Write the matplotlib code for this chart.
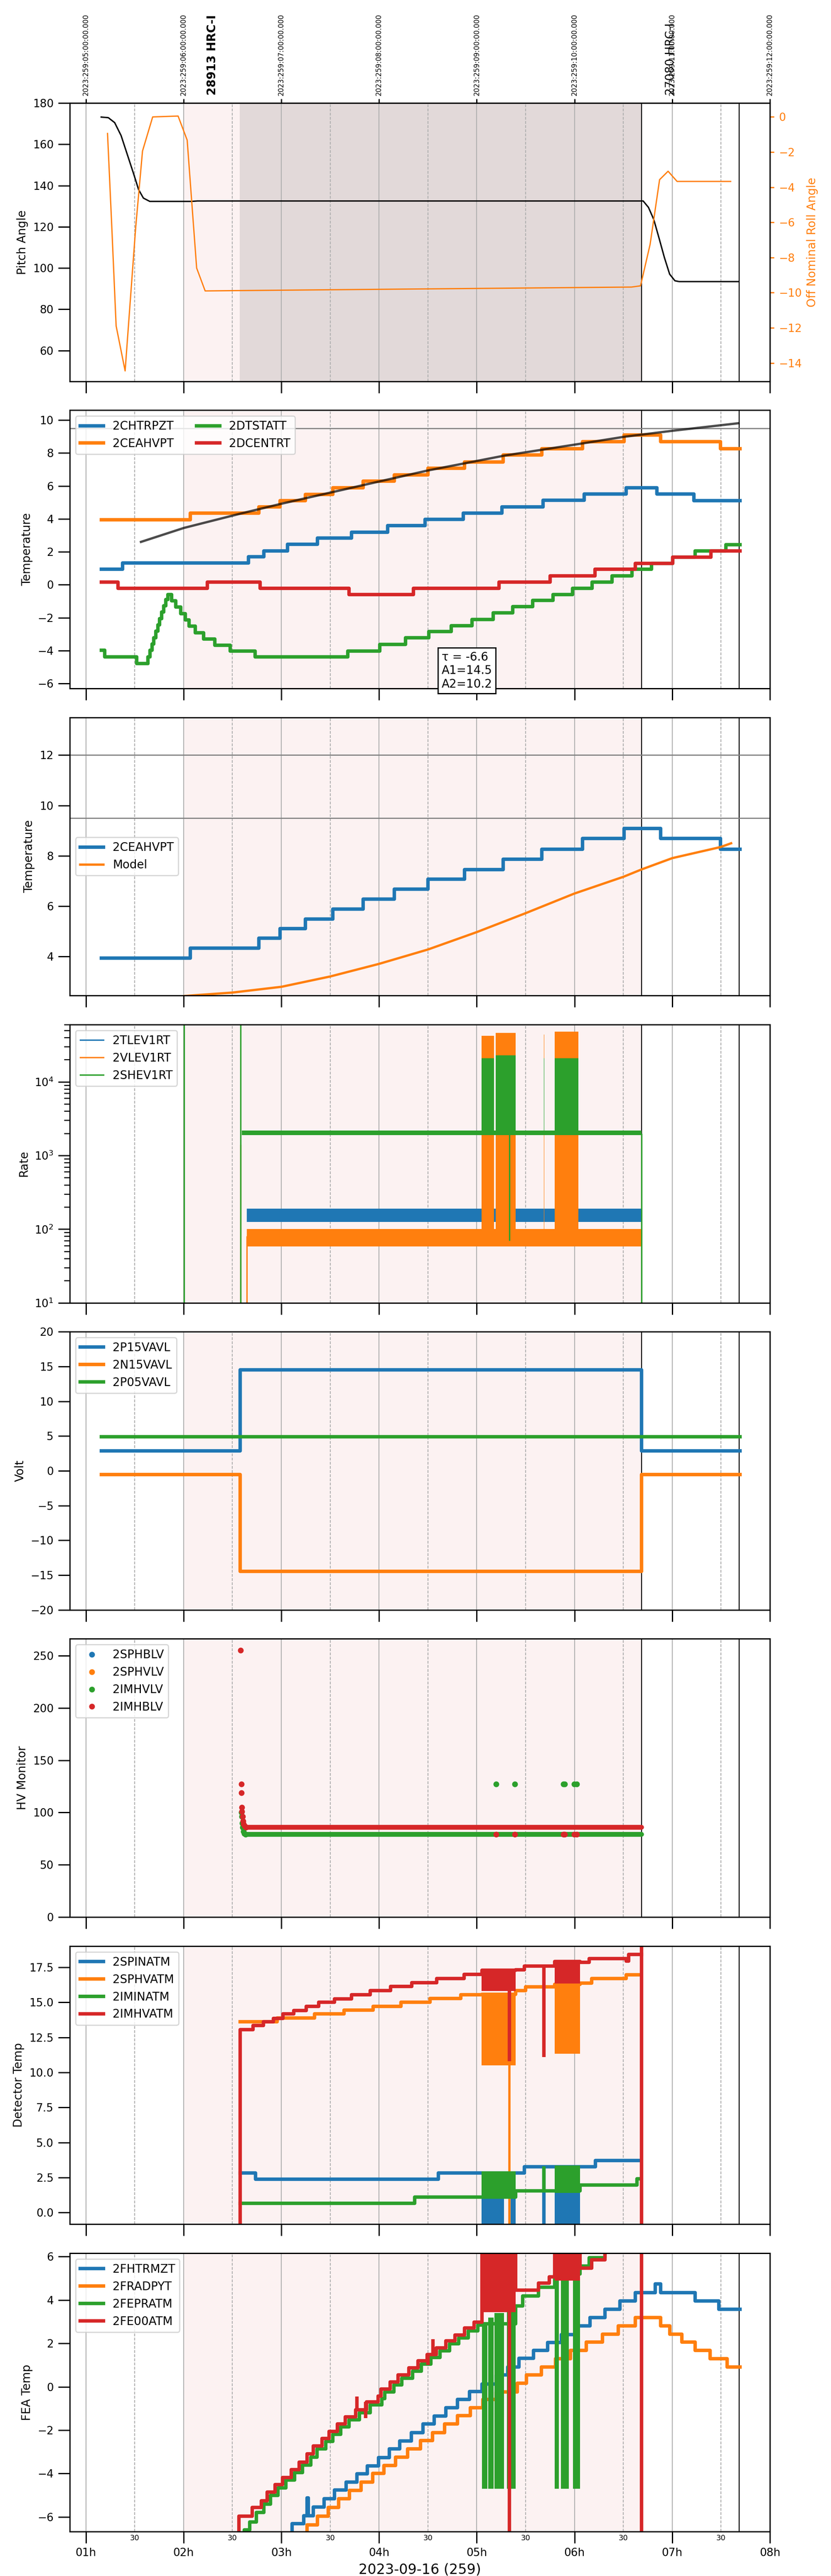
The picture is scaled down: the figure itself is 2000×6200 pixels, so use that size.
import numpy as np
import matplotlib
matplotlib.use("Agg")
import matplotlib.pyplot as plt
from matplotlib.lines import Line2D

# time axis: local hours on 2023-09-16 (day 259); UTC = local + 4h
hours = [1, 2, 3, 4, 5, 6, 7, 8]
hour_labels = ["01h", "02h", "03h", "04h", "05h", "06h", "07h", "08h"]
half_hours = [1.5, 2.5, 3.5, 4.5, 5.5, 6.5, 7.5]
half_labels = ["30", "30", "30", "30", "30", "30", "30"]
utc_labels = ["2023:259:05:00:00.000", "2023:259:06:00:00.000", "2023:259:07:00:00.000",
              "2023:259:08:00:00.000", "2023:259:09:00:00.000", "2023:259:10:00:00.000",
              "2023:259:11:00:00.000", "2023:259:12:00:00.000"]
obs_names = ["28913 HRC-I", "27080 HRC-I"]
obs_times = [2.294, 6.983]
obs_weights = ["bold", "normal"]
hrc_on, hrc_off = 2.0, 6.686
rad_on = 2.573
end_marks = [6.686, 7.686]

# panel 1: pitch / roll
pitch_t = [1.157, 1.230, 1.295, 1.361, 1.426, 1.491, 1.540, 1.589, 1.654, 2.078, 2.143,
           6.703, 6.757, 6.811, 6.866, 6.920, 6.974, 7.028, 7.072, 7.679]
pitch_v = [173.2, 172.9, 170.5, 164.2, 154.8, 145.4, 138.0, 133.9, 132.3, 132.3, 132.5,
           132.5, 129.4, 123.6, 114.4, 105.1, 97.0, 93.8, 93.4, 93.4]
roll_t = [1.222, 1.266, 1.310, 1.402, 1.445, 1.510, 1.580, 1.684, 1.944, 2.037, 2.134,
          2.221, 2.568, 6.583, 6.676, 6.774, 6.871, 6.958, 7.050, 7.598]
roll_v = [-0.94, -6.30, -11.89, -14.45, -11.2, -6.30, -1.94, 0.0, 0.05, -1.32, -8.6,
          -9.9, -9.88, -9.68, -9.61, -7.25, -3.57, -3.09, -3.67, -3.67]

# panel 2: temperatures
chtr_t = [1.157, 1.374, 2.666, 2.823, 3.062, 3.371, 3.718, 4.087, 4.473, 4.863, 5.259,
          5.677, 6.100, 6.529, 6.844, 7.224, 7.696]
chtr_v = [0.93, 1.31, 1.69, 2.06, 2.45, 2.83, 3.20, 3.58, 3.96, 4.35, 4.73, 5.12, 5.51,
          5.89, 5.51, 5.11, 5.11]
ceah_t = [1.157, 2.069, 2.769, 2.986, 3.246, 3.528, 3.838, 4.158, 4.500, 4.874, 5.270,
          5.666, 6.084, 6.507, 6.882, 7.495, 7.696]
ceah_v = [3.94, 4.34, 4.73, 5.11, 5.49, 5.88, 6.28, 6.68, 7.07, 7.46, 7.87, 8.27, 8.69,
          9.09, 8.69, 8.27, 8.27]
dtst_t = [1.157, 1.195, 1.521, 1.635, 1.657, 1.678, 1.695, 1.716, 1.738, 1.754, 1.776,
          1.798, 1.819, 1.841, 1.879, 1.922, 1.971, 2.020, 2.058, 2.118, 2.205, 2.318,
          2.476, 2.731, 3.680, 4.006, 4.272, 4.511, 4.738, 4.950, 5.167, 5.368, 5.574,
          5.780, 5.981, 6.182, 6.383, 6.589, 6.789, 7.006, 7.234, 7.549, 7.696]
dtst_v = [-3.98, -4.39, -4.79, -4.39, -3.98, -3.60, -3.21, -2.83, -2.44, -2.05, -1.67,
          -1.28, -0.90, -0.59, -0.98, -1.36, -1.75, -2.14, -2.52, -2.91, -3.29, -3.68,
          -4.02, -4.39, -4.02, -3.62, -3.23, -2.84, -2.48, -2.10, -1.71, -1.34, -0.95,
          -0.59, -0.21, 0.17, 0.55, 0.93, 1.30, 1.67, 2.05, 2.42, 2.42]
dcen_t = [1.157, 1.331, 2.243, 2.785, 3.691, 4.353, 5.227, 5.753, 6.209, 6.621, 7.006,
          7.397, 7.696]
dcen_v = [0.15, -0.23, 0.15, -0.23, -0.59, -0.23, 0.15, 0.55, 0.93, 1.30, 1.67, 2.05, 2.05]
fit_t = [1.564, 2.004, 2.570, 3.002, 3.920, 4.500, 5.281, 6.100, 6.502, 7.001, 7.679]
fit_v = [2.60, 3.45, 4.30, 4.92, 6.16, 6.94, 7.84, 8.60, 8.98, 9.35, 9.81]
fit_text = "τ = -6.6\nA1=14.5\nA2=10.2"

# panel 3: model
model_t = [1.157, 1.700, 2.134, 2.498, 3.002, 3.501, 4.000, 4.500, 4.999, 5.498, 5.997,
           6.502, 6.686, 7.001, 7.495, 7.603]
model_v = [2.20, 2.34, 2.47, 2.57, 2.80, 3.21, 3.71, 4.28, 4.97, 5.72, 6.50, 7.17, 7.46,
           7.91, 8.35, 8.50]

# panel 4: rates (band extents)
rate_on, rate_off = 2.649, 6.686
tlev_band = [125, 190]
vlev_band = [58, 100]
shev_on = 2.595
shev_band = [1880, 2170]
burst_t0 = [5.048, 5.194, 5.686, 5.797]
burst_t1 = [5.178, 5.400, 5.692, 6.041]
vlev_burst_hi = [4.2e4, 4.6e4, 4.4e4, 4.8e4]
shev_burst_hi = [2.1e4, 2.3e4, 2.1e4, 2.1e4]
shev_spike_t = [2.004, 2.585, 6.686, 5.335]
shev_spike_lo = [10, 10, 10, 70]
shev_spike_hi = [7e4, 7e4, 2000, 2000]
vlev_spike_t = [2.585, 2.649]
vlev_spike_hi = [1400, 80]

# panel 5: voltages
volt_t = [1.157, 2.579, 6.686, 7.696]
p15_v = [2.86, 14.5, 2.86, 2.86]
n15_v = [-0.55, -14.45, -0.55, -0.55]
p05_v = [4.9, 4.9, 4.9, 4.9]

# panel 6: HV monitor
hv_on, hv_off = 2.649, 6.686
imhb_level = 86
imhv_level = 79
imhb_t = [2.585, 2.590, 2.592, 2.595, 2.598, 2.603, 2.608, 2.615, 2.625, 2.640,
          5.200, 5.390, 5.889, 5.900, 5.997, 6.024]
imhb_v = [255, 127, 119, 105, 101, 96, 92, 89, 87, 86, 79, 79, 79, 79, 79, 79]
imhv_t = [2.592, 2.595, 2.600, 2.605, 2.612, 2.620, 2.635, 5.200, 5.390, 5.889, 5.900,
          5.997, 6.024]
imhv_v = [100, 96, 90, 86, 82, 80, 79, 127, 127, 127, 127, 127, 127]

# panel 7: detector temps
spin_t = [2.579, 2.736, 4.608, 5.487, 6.214, 6.670]
spin_v = [2.83, 2.39, 2.83, 3.27, 3.71, 3.71]
sphv_t = [2.579, 2.959, 3.339, 3.642, 3.941, 4.223, 4.521, 4.836, 5.053, 5.400, 5.498,
          5.797, 6.057, 6.176, 6.529, 6.670]
sphv_v = [13.62, 13.89, 14.18, 14.45, 14.72, 15.01, 15.28, 15.55, 15.58, 15.84, 16.11,
          16.30, 16.38, 16.69, 16.96, 16.96]
imin_t = [2.579, 4.364, 5.400, 6.057, 6.638, 6.670]
imin_v = [0.67, 1.10, 1.54, 1.97, 2.42, 2.42]
imhva_t = [2.577, 2.579, 2.709, 2.818, 2.921, 3.018, 3.127, 3.257, 3.382, 3.545, 3.718,
           3.908, 4.120, 4.337, 4.592, 4.869, 5.053, 5.400, 5.487, 5.797, 6.057, 6.149,
           6.529, 6.556, 6.686]
imhva_v = [-5, 13.06, 13.36, 13.62, 13.87, 14.18, 14.43, 14.72, 15.01, 15.26, 15.55,
           15.85, 16.14, 16.41, 16.70, 17.00, 17.30, 17.31, 17.58, 17.93, 17.85, 18.12,
           17.95, 18.41, 18.41]
# burst blocks: (t0, t1, lo, hi)
spin_blocks = [(5.048, 5.281, -1, 2.83), (5.346, 5.400, -1, 2.83), (5.797, 6.057, -1, 3.27)]
sphv_blocks = [(5.048, 5.400, 10.5, 15.6), (5.797, 6.057, 11.35, 16.3)]
imin_blocks = [(5.048, 5.400, 1.06, 2.95), (5.797, 6.057, 1.40, 3.35)]
imhva_blocks = [(5.048, 5.400, 15.8, 17.3), (5.797, 6.057, 16.34, 17.93)]
# single glitch lines: (t, lo, hi)
spin_lines = [(5.688, -1, 3.27)]
sphv_lines = [(5.335, -1, 10.5), (5.688, 11.1, 16.11)]
imin_lines = [(5.688, 1.54, 3.3)]
imhva_lines = [(5.335, 10.8, 17.3), (5.688, 11.1, 17.58), (6.686, -5, 25)]

# panel 8: FEA temps
fhtr_t = [3.105, 3.111, 3.230, 3.265, 3.278, 3.328, 3.436, 3.545, 3.664, 3.773, 3.881,
          3.995, 4.104, 4.212, 4.332, 4.451, 4.565, 4.684, 4.804, 4.928, 5.053, 5.200,
          5.319, 5.433, 5.579, 5.726, 5.867, 6.014, 6.160, 6.312, 6.464, 6.621, 6.827,
          6.882, 7.234, 7.479, 7.696]
fhtr_v = [-7.0, -6.32, -5.94, -5.12, -5.94, -5.54, -5.17, -4.76, -4.39, -4.02, -3.65,
          -3.26, -2.87, -2.50, -2.11, -1.71, -1.35, -0.96, -0.59, -0.21, 0.13, 0.54, 0.91,
          1.31, 1.68, 2.05, 2.41, 2.80, 3.19, 3.57, 3.95, 4.34, 4.74, 4.34, 3.95, 3.57, 3.57]
frad_t = [3.258, 3.263, 3.371, 3.480, 3.588, 3.697, 3.816, 3.935, 4.049, 4.169, 4.293,
          4.424, 4.548, 4.673, 4.804, 4.934, 5.064, 5.200, 5.417, 5.509, 5.661, 5.808,
          5.959, 6.122, 6.285, 6.448, 6.621, 6.882, 6.974, 7.099, 7.234, 7.386, 7.560, 7.696]
frad_v = [-7.0, -6.37, -5.97, -5.57, -5.17, -4.77, -4.39, -4.00, -3.63, -3.24, -2.87,
          -2.48, -2.11, -1.71, -1.33, -0.96, -0.58, -0.24, 0.16, 0.54, 0.91, 1.30, 1.68,
          2.06, 2.43, 2.80, 3.19, 2.80, 2.43, 2.06, 1.68, 1.30, 0.91, 0.91]
fepr_t = [2.617, 2.622, 2.676, 2.747, 2.823, 2.889, 2.965, 3.046, 3.138, 3.219, 3.301,
          3.366, 3.453, 3.528, 3.610, 3.691, 3.800, 3.908, 4.028, 4.060, 4.153, 4.234,
          4.342, 4.435, 4.532, 4.625, 4.722, 4.814, 4.912, 5.010, 5.053, 5.400, 5.471,
          5.633, 5.797, 6.057, 6.149, 6.312, 6.686]
fepr_v = [-7.0, -6.60, -6.23, -5.80, -5.42, -5.00, -4.66, -4.30, -3.95, -3.60, -3.24,
          -2.87, -2.52, -2.19, -1.84, -1.52, -1.20, -0.84, -0.55, -0.24, 0.08, 0.40, 0.73,
          1.05, 1.36, 1.66, 1.98, 2.26, 2.57, 2.85, 2.90, 3.72, 4.18, 4.60, 5.20, 5.57,
          5.95, 6.5, 6.5]
fe00_t = [2.563, 2.568, 2.704, 2.796, 2.856, 2.937, 3.013, 3.100, 3.181, 3.263, 3.328,
          3.415, 3.490, 3.572, 3.653, 3.762, 3.870, 3.990, 4.022, 4.115, 4.196, 4.304,
          4.397, 4.494, 4.587, 4.684, 4.776, 4.874, 4.972, 5.053, 5.400, 5.633, 5.742,
          5.797, 6.057, 6.176, 6.312, 6.686]
fe00_v = [-7.0, -5.97, -5.57, -5.26, -4.85, -4.51, -4.18, -3.82, -3.47, -3.10, -2.73,
          -2.38, -2.06, -1.71, -1.39, -1.07, -0.70, -0.42, -0.10, 0.22, 0.54, 0.87, 1.19,
          1.49, 1.79, 2.11, 2.39, 2.71, 2.99, 6.5, 4.46, 4.78, 5.06, 6.5, 5.47, 5.85, 6.5, 6.5]
fepr_blocks = [(5.053, 5.107, -4.7, 2.9), (5.118, 5.172, -4.7, 3.2), (5.183, 5.281, -4.7, 3.4),
               (5.308, 5.400, -4.7, 3.7), (5.797, 5.840, -4.7, 4.9), (5.862, 5.943, -4.7, 5.3),
               (5.986, 6.057, -4.7, 5.6)]
fe00_blocks = [(5.053, 5.400, 3.45, 6.5), (5.797, 6.057, 4.9, 6.5)]
fe00_lines = [(5.335, -7, 6.5), (6.686, -7, 6.5), (3.775, -1.07, -0.45), (3.865, -1.45, -0.70),
              (4.550, 1.49, 2.2), (4.500, 1.0, 1.49)]


def decorate(ax):
    ax.axvspan(hrc_on, hrc_off, color="tab:red", alpha=0.06, lw=0)
    for m in end_marks:
        ax.axvline(m, color="k", lw=0.8, zorder=1.8)
    ax.xaxis.grid(True, which="major", color="#b0b0b0", lw=0.8)
    ax.xaxis.grid(True, which="minor", color="#b0b0b0", lw=0.8, ls=(0, (3, 1.5)))
    for sp in ax.spines.values():
        sp.set_linewidth(1.1)
    ax.tick_params(axis="both", which="major", direction="out", length=10, width=1.1,
                   labelsize=9.5, pad=4)
    ax.tick_params(axis="x", which="minor", length=0, labelsize=6.5, pad=2.5)


def blocks(ax, spec, color):
    for t0, t1, lo, hi in spec:
        ax.fill_between([t0, t1], lo, hi, color=color, lw=0, zorder=2)


def glitches(ax, spec, color, lw=3):
    for t, lo, hi in spec:
        ax.vlines(t, lo, hi, color=color, lw=lw, zorder=2)


fig, axes = plt.subplots(8, 1, figsize=(10, 31), dpi=200, sharex=True)
fig.subplots_adjust(left=0.084, right=0.9265, top=0.96, bottom=0.0173, hspace=0.104)
for ax in axes:
    decorate(ax)
axes[-1].set_xlim(0.836, 8.0)
axes[-1].set_xticks(hours)
axes[-1].set_xticklabels(hour_labels)
axes[-1].set_xticks(half_hours, minor=True)
axes[-1].set_xticklabels(half_labels, minor=True)
axes[-1].set_xlabel("2023-09-16 (259)", fontsize=12)

# 1 pitch
ax = axes[0]
ax.axvspan(rad_on, hrc_off, color="k", alpha=0.1, lw=0)
ax.plot(pitch_t, pitch_v, color="k", lw=1.2)
ax.set_ylim(45.06, 180)
ax.set_yticks(range(60, 181, 20))
ax.set_ylabel("Pitch Angle", fontsize=10)
axr = ax.twinx()
axr.plot(roll_t, roll_v, color="C1", lw=1.1)
axr.set_ylim(-15.04, 0.79)
axr.set_yticks(range(-14, 1, 2))
axr.set_ylabel("Off Nominal Roll Angle", color="C1", fontsize=10)
axr.tick_params(axis="y", colors="C1", length=3.6, width=1.1, labelsize=9.5, pad=4)
for sp in axr.spines.values():
    sp.set_linewidth(1.1)
top = ax.secondary_xaxis("top")
top.set_xticks(hours)
top.set_xticklabels(utc_labels, rotation=90, fontsize=6)
top.tick_params(length=3.6, width=1.1, pad=3)
for name, t, w in zip(obs_names, obs_times, obs_weights):
    ax.text(t, 1.028, name, transform=ax.get_xaxis_transform(), rotation=90,
            ha="center", va="bottom", fontsize=10, fontweight=w)

# 2 temperatures
ax = axes[1]
ax.axhline(9.5, color="gray", lw=1)
ax.plot(chtr_t, chtr_v, drawstyle="steps-post", lw=3, color="C0", label="2CHTRPZT")
ax.plot(ceah_t, ceah_v, drawstyle="steps-post", lw=3, color="C1", label="2CEAHVPT")
ax.plot(dtst_t, dtst_v, drawstyle="steps-post", lw=3, color="C2", label="2DTSTATT")
ax.plot(dcen_t, dcen_v, drawstyle="steps-post", lw=3, color="C3", label="2DCENTRT")
ax.plot(fit_t, fit_v, color="k", alpha=0.7, lw=2)
ax.set_ylim(-6.3, 10.6)
ax.set_yticks(range(-6, 11, 2))
ax.set_ylabel("Temperature", fontsize=10)
ax.legend(loc="upper left", ncol=2, fontsize=10)
ax.text(4.64, -4.05, fit_text, fontsize=10, ha="left", va="top", linespacing=1.2,
        bbox=dict(boxstyle="square,pad=0.3", fc="white", ec="black", lw=1.1))

# 3 model
ax = axes[2]
ax.axhline(12, color="gray", lw=1)
ax.axhline(9.5, color="gray", lw=1)
ax.plot(ceah_t, ceah_v, drawstyle="steps-post", lw=3, color="C0", label="2CEAHVPT")
ax.plot(model_t, model_v, lw=2, color="C1", label="Model")
ax.set_ylim(2.45, 13.5)
ax.set_yticks(range(4, 13, 2))
ax.set_ylabel("Temperature", fontsize=10)
ax.legend(loc="center left", fontsize=10)

# 4 rates
ax = axes[3]
ax.set_yscale("log")
ax.fill_between([rate_on, rate_off], tlev_band[0], tlev_band[1], color="C0", lw=0, zorder=2)
ax.fill_between([rate_on, rate_off], vlev_band[0], vlev_band[1], color="C1", lw=0, zorder=2)
ax.vlines(vlev_spike_t, 10, vlev_spike_hi, color="C1", lw=1.2, zorder=2)
for t0, t1, hi in zip(burst_t0, burst_t1, vlev_burst_hi):
    ax.fill_between([t0, t1], vlev_band[0], hi, color="C1", lw=0, zorder=2)
ax.fill_between([shev_on, rate_off], shev_band[0], shev_band[1], color="C2", lw=0, zorder=2)
for t0, t1, hi in zip(burst_t0, burst_t1, shev_burst_hi):
    ax.fill_between([t0, t1], shev_band[0], hi, color="C2", lw=0, zorder=2)
ax.vlines(shev_spike_t, shev_spike_lo, shev_spike_hi, color="C2", lw=1.2, zorder=2)
ax.set_ylim(10, 6e4)
ax.tick_params(axis="y", which="minor", length=5, width=0.9)
ax.set_ylabel("Rate", fontsize=10)
ax.legend(handles=[Line2D([], [], color="C0", lw=1.2, label="2TLEV1RT"),
                   Line2D([], [], color="C1", lw=1.2, label="2VLEV1RT"),
                   Line2D([], [], color="C2", lw=1.2, label="2SHEV1RT")],
          loc="upper left", fontsize=10)

# 5 volts
ax = axes[4]
ax.plot(volt_t, p15_v, drawstyle="steps-post", lw=3, color="C0", label="2P15VAVL")
ax.plot(volt_t, n15_v, drawstyle="steps-post", lw=3, color="C1", label="2N15VAVL")
ax.plot(volt_t, p05_v, drawstyle="steps-post", lw=3, color="C2", label="2P05VAVL")
ax.set_ylim(-20, 20)
ax.set_yticks(range(-20, 21, 5))
ax.set_ylabel("Volt", fontsize=10)
ax.legend(loc="upper left", fontsize=10)

# 6 HV monitor
ax = axes[5]
ax.plot([], [], ls="", marker="o", ms=4, color="C0", label="2SPHBLV")
ax.plot([], [], ls="", marker="o", ms=4, color="C1", label="2SPHVLV")
ax.plot([hv_on, hv_off], [imhv_level, imhv_level], lw=4.2, color="C2", solid_capstyle="round")
ax.plot(imhv_t, imhv_v, ls="", marker="o", ms=4, color="C2", label="2IMHVLV")
ax.plot([hv_on, hv_off], [imhb_level, imhb_level], lw=4.2, color="C3", solid_capstyle="round")
ax.plot(imhb_t, imhb_v, ls="", marker="o", ms=4, color="C3", label="2IMHBLV")
ax.set_ylim(0, 266)
ax.set_yticks(range(0, 251, 50))
ax.set_ylabel("HV Monitor", fontsize=10)
ax.legend(loc="upper left", fontsize=10)

# 7 detector temps
ax = axes[6]
ax.plot(spin_t, spin_v, drawstyle="steps-post", lw=3, color="C0", label="2SPINATM")
blocks(ax, spin_blocks, "C0")
glitches(ax, spin_lines, "C0")
ax.plot(sphv_t, sphv_v, drawstyle="steps-post", lw=3, color="C1", label="2SPHVATM")
blocks(ax, sphv_blocks, "C1")
glitches(ax, sphv_lines, "C1", lw=2)
ax.plot(imin_t, imin_v, drawstyle="steps-post", lw=3, color="C2", label="2IMINATM")
blocks(ax, imin_blocks, "C2")
glitches(ax, imin_lines, "C2")
ax.plot(imhva_t, imhva_v, drawstyle="steps-post", lw=3, color="C3", label="2IMHVATM")
blocks(ax, imhva_blocks, "C3")
glitches(ax, imhva_lines, "C3")
ax.set_ylim(-0.83, 19.02)
ax.set_yticks([0.0, 2.5, 5.0, 7.5, 10.0, 12.5, 15.0, 17.5])
ax.set_ylabel("Detector Temp", fontsize=10)
ax.legend(loc="upper left", fontsize=10)

# 8 FEA temps
ax = axes[7]
ax.plot(fhtr_t, fhtr_v, drawstyle="steps-post", lw=3, color="C0", label="2FHTRMZT")
ax.plot(frad_t, frad_v, drawstyle="steps-post", lw=3, color="C1", label="2FRADPYT")
ax.plot(fepr_t, fepr_v, drawstyle="steps-post", lw=3, color="C2", label="2FEPRATM")
blocks(ax, fepr_blocks, "C2")
ax.plot(fe00_t, fe00_v, drawstyle="steps-post", lw=3, color="C3", label="2FE00ATM")
blocks(ax, fe00_blocks, "C3")
glitches(ax, fe00_lines, "C3")
ax.set_ylim(-6.67, 6.16)
ax.set_yticks(range(-6, 7, 2))
ax.set_ylabel("FEA Temp", fontsize=10)
ax.legend(loc="upper left", fontsize=10)

fig.savefig("out.png", dpi=200)
